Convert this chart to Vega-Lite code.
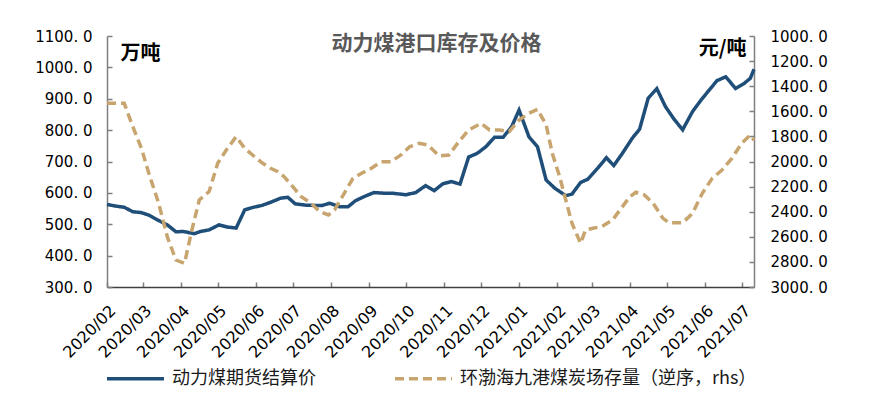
{
  "$schema": "https://vega.github.io/schema/vega-lite/v6.json",
  "width": 647,
  "height": 251,
  "autosize": {"type": "none"},
  "padding": {"left": 107, "top": 36, "right": 122, "bottom": 113},
  "background": "white",
  "title": {"text": "动力煤港口库存及价格", "font": "Noto Sans CJK SC", "fontSize": 21, "fontWeight": "bold", "color": "#595959", "anchor": "middle", "offset": -25, "dx": 6},
  "config": {
    "view": {"stroke": null},
    "axis": {"grid": false, "domainColor": "#7f7f7f", "domainWidth": 1.5, "tickColor": "#7f7f7f", "tickWidth": 1.5, "tickSize": -5, "labelFont": "DejaVu Sans", "labelFontSize": 15, "labelColor": "#000000"},
    "legend": {"orient": "none", "legendX": -2, "legendY": 312, "direction": "horizontal", "title": null, "symbolType": "stroke", "symbolSize": 3249, "symbolStrokeWidth": 3.5, "labelFont": "Noto Sans CJK SC", "labelFontSize": 18, "labelColor": "#1a1a1a", "columnPadding": 72, "labelOffset": 6, "padding": 0, "labelLimit": 400}
  },
  "layer": [
    {
      "data": {"values": [
        {"d": "2020-02-01", "v": 563}, {"d": "2020-02-08", "v": 558}, {"d": "2020-02-15", "v": 554}, {"d": "2020-02-22", "v": 540},
        {"d": "2020-02-29", "v": 537}, {"d": "2020-03-06", "v": 529}, {"d": "2020-03-13", "v": 514}, {"d": "2020-03-21", "v": 498},
        {"d": "2020-03-28", "v": 476}, {"d": "2020-04-03", "v": 477}, {"d": "2020-04-12", "v": 470}, {"d": "2020-04-17", "v": 477},
        {"d": "2020-04-24", "v": 482}, {"d": "2020-05-02", "v": 498}, {"d": "2020-05-09", "v": 491}, {"d": "2020-05-16", "v": 488},
        {"d": "2020-05-23", "v": 546}, {"d": "2020-05-30", "v": 554}, {"d": "2020-06-06", "v": 560}, {"d": "2020-06-13", "v": 570},
        {"d": "2020-06-21", "v": 583}, {"d": "2020-06-27", "v": 586}, {"d": "2020-07-03", "v": 565}, {"d": "2020-07-11", "v": 561},
        {"d": "2020-07-18", "v": 560}, {"d": "2020-07-25", "v": 560}, {"d": "2020-07-31", "v": 567}, {"d": "2020-08-08", "v": 556},
        {"d": "2020-08-15", "v": 556}, {"d": "2020-08-21", "v": 575}, {"d": "2020-08-28", "v": 588}, {"d": "2020-09-05", "v": 601},
        {"d": "2020-09-13", "v": 599}, {"d": "2020-09-20", "v": 599}, {"d": "2020-10-01", "v": 594}, {"d": "2020-10-09", "v": 601},
        {"d": "2020-10-17", "v": 623}, {"d": "2020-10-24", "v": 607}, {"d": "2020-10-31", "v": 629}, {"d": "2020-11-07", "v": 636},
        {"d": "2020-11-14", "v": 628}, {"d": "2020-11-21", "v": 714}, {"d": "2020-11-28", "v": 726}, {"d": "2020-12-05", "v": 747},
        {"d": "2020-12-12", "v": 777}, {"d": "2020-12-19", "v": 777}, {"d": "2020-12-26", "v": 811}, {"d": "2021-01-01", "v": 864},
        {"d": "2021-01-09", "v": 779}, {"d": "2021-01-16", "v": 747}, {"d": "2021-01-23", "v": 641}, {"d": "2021-01-30", "v": 615},
        {"d": "2021-02-08", "v": 591}, {"d": "2021-02-13", "v": 596}, {"d": "2021-02-20", "v": 633}, {"d": "2021-02-26", "v": 644},
        {"d": "2021-03-06", "v": 679}, {"d": "2021-03-13", "v": 712}, {"d": "2021-03-19", "v": 687}, {"d": "2021-03-26", "v": 726},
        {"d": "2021-04-03", "v": 774}, {"d": "2021-04-09", "v": 803}, {"d": "2021-04-16", "v": 902}, {"d": "2021-04-23", "v": 932},
        {"d": "2021-04-30", "v": 875}, {"d": "2021-05-07", "v": 835}, {"d": "2021-05-14", "v": 801}, {"d": "2021-05-22", "v": 859},
        {"d": "2021-05-29", "v": 896}, {"d": "2021-06-04", "v": 925}, {"d": "2021-06-11", "v": 958}, {"d": "2021-06-18", "v": 970},
        {"d": "2021-06-26", "v": 933}, {"d": "2021-07-03", "v": 949}, {"d": "2021-07-08", "v": 965}, {"d": "2021-07-11", "v": 994}
      ]},
      "mark": {"type": "line", "strokeWidth": 3.5},
      "encoding": {
        "x": {"field": "d", "type": "temporal",
          "scale": {"type": "utc", "domain": [{"year": 2020, "month": 2, "date": 1, "utc": true}, {"year": 2021, "month": 7, "date": 11, "utc": true}]},
          "axis": {"title": null, "format": "%Y/%m", "labelAngle": -45, "tickCount": {"interval": "month", "step": 1}, "labelFontSize": 16, "labelOverlap": false, "labelBound": false, "labelFlush": false, "labelPadding": 20, "domainColor": "#404040"}},
        "y": {"field": "v", "type": "quantitative",
          "scale": {"domain": [300, 1100], "nice": false, "zero": false},
          "axis": {"orient": "left", "values": [300, 400, 500, 600, 700, 800, 900, 1000, 1100], "labelExpr": "replace(format(datum.value, '.1f'), '.', '. ')", "labelPadding": 20,
            "title": "万吨", "titleAngle": 0, "titleX": 13, "titleY": 17, "titleAlign": "left", "titleBaseline": "middle", "titleFont": "Noto Sans CJK SC", "titleFontSize": 20, "titleFontWeight": "bold", "titleColor": "#000000"}},
        "color": {"datum": "动力煤期货结算价", "type": "nominal", "scale": {"domain": ["动力煤期货结算价", "环渤海九港煤炭场存量（逆序，rhs）"], "range": ["#1F4E79", "#C8A46E"]}},
        "strokeDash": {"datum": "动力煤期货结算价", "type": "nominal", "scale": {"domain": ["动力煤期货结算价", "环渤海九港煤炭场存量（逆序，rhs）"], "range": [[1, 0], [9, 5]]}}
      }
    },
    {
      "data": {"values": [
        {"d": "2020-02-01", "v": 1536}, {"d": "2020-02-08", "v": 1536}, {"d": "2020-02-15", "v": 1536}, {"d": "2020-02-22", "v": 1723},
        {"d": "2020-02-29", "v": 1895}, {"d": "2020-03-06", "v": 2094}, {"d": "2020-03-14", "v": 2333}, {"d": "2020-03-21", "v": 2599},
        {"d": "2020-03-28", "v": 2785}, {"d": "2020-04-04", "v": 2811}, {"d": "2020-04-10", "v": 2546}, {"d": "2020-04-16", "v": 2307},
        {"d": "2020-04-24", "v": 2240}, {"d": "2020-05-01", "v": 2014}, {"d": "2020-05-08", "v": 1908}, {"d": "2020-05-16", "v": 1802},
        {"d": "2020-05-23", "v": 1895}, {"d": "2020-05-31", "v": 1962}, {"d": "2020-06-06", "v": 2010}, {"d": "2020-06-13", "v": 2054},
        {"d": "2020-06-19", "v": 2081}, {"d": "2020-06-24", "v": 2121}, {"d": "2020-07-01", "v": 2201}, {"d": "2020-07-08", "v": 2281},
        {"d": "2020-07-16", "v": 2333}, {"d": "2020-07-23", "v": 2400}, {"d": "2020-07-30", "v": 2426}, {"d": "2020-08-04", "v": 2386},
        {"d": "2020-08-11", "v": 2267}, {"d": "2020-08-19", "v": 2134}, {"d": "2020-08-26", "v": 2094}, {"d": "2020-09-03", "v": 2054},
        {"d": "2020-09-11", "v": 2001}, {"d": "2020-09-19", "v": 2001}, {"d": "2020-09-27", "v": 1948}, {"d": "2020-10-04", "v": 1882},
        {"d": "2020-10-12", "v": 1855}, {"d": "2020-10-19", "v": 1869}, {"d": "2020-10-28", "v": 1955}, {"d": "2020-11-05", "v": 1948},
        {"d": "2020-11-13", "v": 1842}, {"d": "2020-11-21", "v": 1749}, {"d": "2020-12-01", "v": 1696}, {"d": "2020-12-08", "v": 1749},
        {"d": "2020-12-16", "v": 1749}, {"d": "2020-12-24", "v": 1762}, {"d": "2021-01-01", "v": 1669}, {"d": "2021-01-09", "v": 1616},
        {"d": "2021-01-16", "v": 1584}, {"d": "2021-01-23", "v": 1709}, {"d": "2021-01-28", "v": 1935}, {"d": "2021-02-03", "v": 2121},
        {"d": "2021-02-08", "v": 2307}, {"d": "2021-02-13", "v": 2492}, {"d": "2021-02-20", "v": 2652}, {"d": "2021-02-24", "v": 2546},
        {"d": "2021-03-02", "v": 2532}, {"d": "2021-03-09", "v": 2519}, {"d": "2021-03-18", "v": 2466}, {"d": "2021-03-25", "v": 2373},
        {"d": "2021-04-01", "v": 2281}, {"d": "2021-04-06", "v": 2245}, {"d": "2021-04-13", "v": 2267}, {"d": "2021-04-20", "v": 2333},
        {"d": "2021-04-28", "v": 2453}, {"d": "2021-05-03", "v": 2488}, {"d": "2021-05-14", "v": 2488}, {"d": "2021-05-22", "v": 2413},
        {"d": "2021-05-30", "v": 2253}, {"d": "2021-06-07", "v": 2134}, {"d": "2021-06-15", "v": 2068}, {"d": "2021-06-23", "v": 1975},
        {"d": "2021-07-01", "v": 1855}, {"d": "2021-07-08", "v": 1789}, {"d": "2021-07-11", "v": 1830}
      ]},
      "mark": {"type": "line", "strokeWidth": 3.5},
      "encoding": {
        "x": {"field": "d", "type": "temporal"},
        "y": {"field": "v", "type": "quantitative",
          "scale": {"domain": [1000, 3000], "reverse": true, "nice": false, "zero": false},
          "axis": {"orient": "right", "values": [1000, 1200, 1400, 1600, 1800, 2000, 2200, 2400, 2600, 2800, 3000], "labelExpr": "replace(format(datum.value, '.1f'), '.', '. ')", "labelPadding": 21,
            "title": "元/吨", "titleAngle": 0, "titleX": -8, "titleY": 12, "titleAlign": "right", "titleBaseline": "middle", "titleFont": "Noto Sans CJK SC", "titleFontSize": 20, "titleFontWeight": "bold", "titleColor": "#000000"}},
        "color": {"datum": "环渤海九港煤炭场存量（逆序，rhs）", "type": "nominal"},
        "strokeDash": {"datum": "环渤海九港煤炭场存量（逆序，rhs）", "type": "nominal"}
      }
    }
  ],
  "resolve": {"scale": {"y": "independent"}}
}
